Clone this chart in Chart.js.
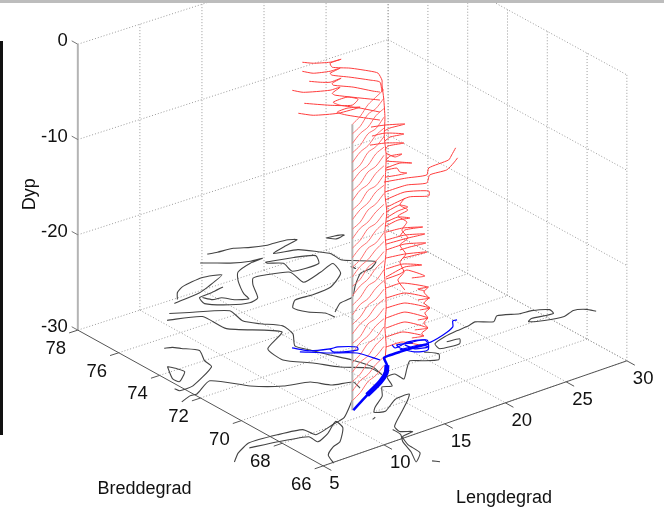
<!DOCTYPE html>
<html>
<head>
<meta charset="utf-8">
<script src="https://cdn.jsdelivr.net/npm/chart.js@4"></script>
<style>
  body { margin: 0; background: #fff; }
  #wrap { position: relative; width: 664px; height: 508px; overflow: hidden; }
  #topbar { position: absolute; left: 0; top: 0; width: 664px; height: 3px; background: #bdbdbd; }
  #leftbar { position: absolute; left: 0; top: 41px; width: 3px; height: 394px; background: #111; }
</style>
</head>
<body>
<div id="wrap">
  <canvas id="myChart" width="664" height="508"></canvas>
  <div id="topbar"></div>
  <div id="leftbar"></div>
</div>
<script>
const lonTicks = [5, 10, 15, 20, 25, 30];
const latTicks = [66, 68, 70, 72, 74, 76, 78];
const depthTicks = [0, -10, -20, -30];

// coast and depth contours, degrees
const coastLon = [
  [18.60,19.29,20.47,21.42,22.36,22.90,24.03,24.49,23.37,22.03,23.62,24.44,24.92,24.87,25.39,26.46,25.57,24.60,23.24,21.99,20.82,19.74],
  [17.42,18.07,18.94,20.13,21.02,19.95,18.51,17.77,17.18,16.79,16.58,15.78,15.30,14.66,14.34],
  [12.89,13.53,14.34,16.13,17.42,15.61,14.65,12.37],
  [16.37,15.25,14.19,13.89,15.07,16.26,17.12,18.07,18.71,19.60,21.15,20.89,22.67,24.11,23.59,21.79,20.14,18.82,17.98,18.37,19.14,19.28],
  [20.80,22.68,23.97,23.39,21.34,21.62,20.81,20.80],
  [26.14,26.74,27.33,26.56,26.14],
  [11.19,12.30,14.52,14.24,14.84,15.81,15.59,14.58,14.97,15.52,16.18,16.60,16.32],
  [10.44,12.59,12.70,15.21,12.94,12.68,13.93,14.93,16.36,16.41],
  [3.69,4.66,5.19,7.05,8.62,10.29,12.03,12.87,14.21,14.00],
  [7.72,8.22,8.58,9.31,8.64,8.44,5.73,4.61,4.54],
  [6.21,6.48,6.62,5.44,5.36,6.21],
  [0.85,1.88,3.36,5.57,7.29,7.49,9.28,10.52,12.50],
  [2.90,4.92,6.95,6.94,8.19,9.70,9.50,8.06,7.25,6.26,5.78],
  [33.02,32.70,31.95,30.93,29.55,28.65,29.08,30.66,30.82,29.82,28.93,27.59,26.88,25.91,25.24,24.17,23.01,21.87,21.66,23.13,23.59,22.65],
  [20.57,21.15,20.59,19.64,19.03,18.14,17.06,17.07,16.39,15.82,15.22,14.39,13.01,12.50,13.16,14.77,15.94,15.20,13.64,12.23,12.02,12.68,11.71,11.24,11.10,10.07,10.74,11.25,11.80,11.86],
  [10.97,11.29],
  [11.76,12.09],
  [24.73,24.81,24.80,24.73]
];
const coastLat = [
  [79.95,79.88,79.81,79.55,79.38,79.36,79.30,79.14,79.00,78.78,78.55,78.06,77.71,77.18,76.91,76.42,76.12,76.03,75.45,74.83,74.72,74.31],
  [79.58,79.34,79.02,78.76,78.70,78.65,78.37,77.92,77.42,77.02,76.65,76.86,77.21,77.27,77.57],
  [77.92,78.31,78.55,78.71,78.50,78.08,77.90,77.75],
  [77.80,77.68,77.62,77.19,76.66,76.41,76.54,77.36,77.75,77.70,77.40,76.58,76.84,77.11,76.40,75.80,75.70,75.73,75.32,74.81,74.44,74.03],
  [78.43,78.18,77.88,77.37,77.41,78.03,78.33,78.43],
  [78.70,78.66,78.54,78.46,78.70],
  [77.28,76.97,76.33,75.53,75.04,74.50,73.86,73.15,72.64,71.99,71.30,70.51,69.90],
  [76.93,76.50,75.38,74.18,73.49,72.59,71.86,71.13,70.51,70.04],
  [72.13,72.31,72.29,72.78,71.75,71.13,70.85,70.27,70.05,69.58],
  [75.42,75.32,75.10,74.65,74.00,73.53,72.81,72.78,72.99],
  [74.35,74.07,73.75,73.29,73.59,74.35],
  [67.87,68.29,68.64,68.55,68.36,67.84,68.08,68.26,69.06],
  [68.36,68.16,67.86,67.41,67.68,68.20,67.72,67.00,66.85,66.50,65.95],
  [69.40,69.70,69.89,69.72,69.87,70.11,70.23,70.10,70.39,70.68,70.73,71.05,70.77,71.12,71.02,70.96,70.85,70.64,70.27,70.18,70.46,70.53],
  [70.40,70.01,69.67,69.94,70.16,69.77,69.26,69.71,69.69,69.09,69.23,68.72,68.24,67.98,67.82,68.30,68.32,67.97,67.37,66.81,66.44,66.19,66.10,65.56,64.88,64.46,65.11,65.82,66.25,66.68],
  [64.21,64.01],
  [67.61,67.68],
  [76.60,76.53,76.40,76.60]
];

// ship track on the sea floor plane, first rows are the main leg
const trackLon = [
  [11.63,13.72,15.58,16.71,17.49,17.99,18.37,19.35,20.38,21.51],
  [13.72,15.58,16.71,17.49],
  [19.59,19.47,20.68,21.72,21.60,23.10,24.34,24.89,25.19],
  [14.25,14.88,16.08,16.67,17.63,17.40,16.46,15.96,16.08],
  [14.28,15.71,17.08,17.60],
  [20.59,21.82,20.95,20.11,19.72,19.84,20.83],
  [19.53,21.00,21.23,20.39,20.24]
];
const trackLat = [
  [68.48,69.06,69.54,69.93,70.36,70.81,70.85,70.85,70.83,70.77],
  [69.06,69.54,69.93,70.36],
  [71.39,71.16,71.26,71.05,70.82,70.99,71.26,71.60,71.57],
  [73.09,72.59,72.33,72.29,71.93,71.75,71.92,72.10,72.33],
  [72.72,72.10,71.59,70.77],
  [71.20,71.01,70.43,70.57,71.07,71.30,71.11],
  [70.96,70.86,70.60,70.74,71.15]
];

// first station, where the grey mast stands
const mastLon = 11.58;
const mastLat = 68.50;

// curtain stations between the mast and the bend
const curtainLon = [11.58, 12.81, 14.04, 15.18, 16.42];
const curtainLat = [68.50, 68.85, 69.21, 69.51, 69.86];
const curtainDepth = [
  [0,-0.1,0.15,0.1,-0.05],
  [-1,-1.15,-0.85,-1.1,-0.95],
  [-2,-1.9,-2.2,-1.85,-2.05],
  [-3,-3.15,-2.9,-3.2,-2.95],
  [-4,-3.85,-4.15,-3.9,-4.1],
  [-5,-5.2,-4.85,-5.1,-5],
  [-6,-5.9,-6.2,-5.85,-6.1],
  [-7,-7.15,-6.9,-7.15,-6.95],
  [-8,-7.85,-8.2,-7.9,-8.05],
  [-9,-9.15,-8.85,-9.2,-9],
  [-10,-9.9,-10.15,-9.85,-10.1],
  [-11,-11.2,-10.9,-11.1,-10.95],
  [-12,-11.85,-12.15,-11.95,-12.1],
  [-13,-13.1,-12.85,-13.15,-13],
  [-14,-13.9,-14.2,-13.9,-14.05],
  [-15,-15.15,-14.9,-15.2,-15.05],
  [-16,-15.85,-16.1,-15.9,-16],
  [-17,-17.2,-16.9,-17.1,-17.05],
  [-18,-17.9,-18.15,-17.85,-18],
  [-19,-19.1,-18.85,-19.15,-18.95],
  [-20,-19.85,-20.2,-19.95,-20.1],
  [-21,-21.15,-20.9,-21.1,-21],
  [-22,-21.9,-22.15,-21.85,-22.05],
  [-23,-23.2,-22.85,-23.1,-23],
  [-24,-23.85,-24.1,-23.9,-24.1],
  [-25,-25.1,-24.9,-25.15,-24.95],
  [-26,-25.9,-26.2,-25.9,-26.05],
  [-27,-27.15,-26.9,-27.1,-27],
  [-28,-27.85,-28.15,-27.95,-28.1],
  [-29,-29.1,-28.9,-29.1,-29]
];

// all the profile rows past the bend hang on this latitude
const fanLat = 69.86;
const fanLon = [
  [9.75,10.64,12.02,12.92,12.02,12.19,13.65,15.28,15.93,16.26,16.26],
  [9.75,10.64,12.02,12.84,12.02,12.19,13.65,15.28,16.09,16.26],
  [10.31,11.21,12.02,12.92,12.19,12.27,13.90,15.52,16.09],
  [8.93,9.83,12.02,12.84,12.19,12.43,16.09],
  [9.91,12.02,13.82,14.30,13.41,12.27,12.84,14.47,16.09],
  [9.42,10.64,12.68,14.47,13.41,12.59,13.41,16.09],
  [15.36,16.50,18.13,16.91,16.42],
  [15.44,16.50,18.05,16.91,16.50],
  [15.28,16.50,18.05,16.75,16.50],
  [16.58,17.32,17.89,16.91,16.58],
  [16.58,17.72,18.70,17.72,16.58],
  [16.58,17.48,17.72,18.29,17.56,16.58],
  [16.42,18.29,19.92,20.08,21.71,21.96,22.28],
  [16.50,18.29,19.92,20.16,21.55,22.12,22.44],
  [16.50,18.13,20.08,20.08,18.46,16.66],
  [16.58,17.32,17.72,18.37,17.56,16.58],
  [16.58,17.56,18.54,17.56,16.58],
  [16.58,17.97,19.59,18.13,17.72],
  [16.58,18.13,19.76,18.37,16.58],
  [16.58,18.13,19.84,18.54,17.72],
  [16.58,18.13,19.92,18.70,17.97],
  [16.58,17.97,19.51,18.13,16.58],
  [16.58,17.72,18.29,19.76,18.70],
  [16.58,17.89,20.00,19.19,19.76],
  [16.58,18.13,20.16,19.19],
  [16.58,18.13,20.16,19.35],
  [16.58,18.13,20.00,19.19],
  [16.58,18.13,20.00,18.94],
  [16.58,17.97,19.68,18.70],
  [16.58,17.89,19.35],
  [20.08,19.68,20.08,19.68,20.16,19.76,20.00,19.68,20.00,19.51,19.68],
  [18.13,17.72,18.37,17.56,18.29,17.89,18.37,17.72,18.21,17.72,18.05,17.56,18.13]
];
const fanDepth = [
  [5.71,5.22,4.73,4.65,4.62,4.13,3.40,2.38,1.89,1.01,0.49],
  [4.76,4.17,3.78,3.75,3.57,3.29,2.45,1.44,0.88,-0.24],
  [3.47,2.98,2.63,2.66,2.45,2.21,1.30,0.18,-0.17],
  [3.12,2.52,1.79,1.75,1.40,1.09,-1.01],
  [1.33,0.21,-0.56,-0.14,0.46,0.42,-0.14,-1.15,-2.27],
  [0.50,-0.24,-0.91,-1.05,-0.70,-0.77,-1.43,-3.11],
  [-3.53,-3.81,-4.41,-4.30,-4.41],
  [-4.51,-4.65,-5.42,-5.25,-5.49],
  [-5.39,-5.70,-6.37,-6.12,-6.44],
  [-6.79,-7.52,-7.45,-7.24,-7.52],
  [-7.63,-8.22,-8.75,-8.33,-8.36],
  [-8.57,-8.75,-9.27,-9.62,-9.52,-9.30],
  [-9.76,-10.14,-10.53,-9.87,-9.73,-9.31,-8.71],
  [-10.84,-10.88,-11.37,-10.64,-10.71,-10.22,-9.83],
  [-11.68,-11.54,-12.28,-12.80,-12.21,-12.49],
  [-12.98,-12.77,-12.73,-13.22,-13.29,-13.61],
  [-14.03,-13.92,-14.45,-14.24,-14.45],
  [-15.08,-15.25,-15.85,-15.53,-15.99],
  [-15.92,-16.06,-16.65,-16.48,-16.34],
  [-16.96,-17.00,-17.63,-17.49,-17.45],
  [-17.80,-18.05,-18.61,-18.50,-18.40],
  [-18.96,-19.03,-19.80,-19.41,-19.80],
  [-20.01,-19.97,-19.80,-21.06,-20.81],
  [-20.95,-20.99,-22.32,-22.18,-22.63],
  [-22.00,-22.14,-23.54,-23.33],
  [-23.05,-23.19,-24.59,-24.45],
  [-24.10,-24.14,-25.57,-25.43],
  [-25.15,-25.18,-26.62,-26.37],
  [-26.09,-26.16,-27.32,-27.11],
  [-27.14,-27.18,-28.12],
  [-22.35,-22.70,-23.51,-23.86,-24.59,-24.94,-25.57,-25.96,-26.62,-26.94,-27.32],
  [-12.17,-12.73,-13.54,-13.82,-14.76,-15.43,-16.48,-16.93,-18.09,-18.71,-19.90,-20.53,-21.83]
];

// the strand running down through the bends
const strandLon = [16.26,16.4,16.5,16.45,16.6,16.55,16.5,16.65,16.5,16.6,16.45,16.55,16.6,16.5,16.6,16.5];
const strandDepth = [0.5,-1,-3,-5,-7,-9,-11,-13,-15,-17,-19,-21,-23,-25,-27,-28.5];

// oblique view of the box: lon/lat/depth to the flat plane of the chart
function project(lon, lat, depth) {
  const l = lon - 17.5, t = 72 - lat;
  return {
    x: 354 + l * 12.28 + t * 20.17 - 0.022 * l * t,
    y: 346.75 - l * 4.1 + t * 11.1 - 0.017 * l * t - (depth + 30) * 9.53
  };
}

const datasets = [];
function addLine(points, color, width, dash, tension) {
  datasets.push({
    data: points,
    showLine: true,
    borderColor: color,
    borderWidth: width,
    borderDash: dash || [],
    tension: tension || 0,
    pointRadius: 0,
    fill: false
  });
}

const gridColor = '#9a9a9a';
const dots = [1, 2];
// left and right wall
depthTicks.forEach(d => {
  addLine([project(5, 78, d), project(30, 78, d)], gridColor, 1, dots);
  addLine([project(30, 78, d), project(30, 66, d)], gridColor, 1, dots);
});
lonTicks.forEach(lon => {
  if (lon > 5) addLine([project(lon, 78, -30), project(lon, 78, 0)], gridColor, 1, dots);
  if (lon > 5) addLine([project(lon, 78, -30), project(lon, 66, -30)], gridColor, 1, dots);
});
latTicks.forEach(lat => {
  addLine([project(30, lat, -30), project(30, lat, 0)], gridColor, 1, dots);
  if (lat < 78) addLine([project(5, lat, -30), project(30, lat, -30)], gridColor, 1, dots);
});

// box edges and ticks
addLine([project(5, 78, -30), project(5, 78, 0)], '#b4b4b4', 2);
addLine([project(5, 78, -30), project(5, 66, -30), project(30, 66, -30)], '#555', 1);
latTicks.forEach(lat => addLine([project(5, lat, -30), project(4.3, lat, -30)], '#555', 1));
lonTicks.forEach(lon => addLine([project(lon, 66, -30), project(lon, 65.6, -30)], '#555', 1));
depthTicks.forEach(d => addLine([project(5, 78, d), project(5, 78.3, d)], '#777', 1));

coastLon.forEach((row, i) => {
  addLine(row.map((lon, j) => project(lon, coastLat[i][j], -30)), '#444', 1.1, null, 0.2);
});

addLine([project(mastLon, mastLat, -30), project(mastLon, mastLat, 0)], '#b4b4b4', 2);

curtainDepth.forEach(row => {
  addLine(row.map((d, j) => project(curtainLon[j], curtainLat[j], d)), '#ff7070', 1, null, 0.3);
});
fanLon.forEach((row, i) => {
  addLine(row.map((lon, j) => project(lon, fanLat, fanDepth[i][j])), '#ff3c3c', 1, null, 0.2);
});
addLine(strandLon.map((lon, j) => project(lon, fanLat, strandDepth[j])), '#ff3c3c', 1, null, 0.2);

for (let i = trackLon.length - 1; i >= 0; i--) {
  const w = i == 0 ? 2.5 : i == 1 ? 5 : 1.2;
  addLine(trackLon[i].map((lon, j) => project(lon, trackLat[i][j], -30)), '#0000ff', w, null, 0.25);
}

// tick labels and axis names hang off the same scales
const axisText = {
  id: 'axisText',
  afterDraw(chart) {
    const { ctx, scales } = chart;
    const px = p => ({ x: scales.x.getPixelForValue(p.x), y: scales.y.getPixelForValue(p.y) });
    ctx.save();
    ctx.fillStyle = '#111';
    ctx.font = '18.5px "Liberation Sans"';
    ctx.textBaseline = 'middle';
    ctx.textAlign = 'right';
    depthTicks.forEach(d => {
      const p = px(project(5, 78, d));
      ctx.fillText(String(d), p.x - 10, p.y - 3);
    });
    ctx.textAlign = 'center';
    latTicks.forEach(lat => {
      const p = px(project(5, lat, -30));
      ctx.fillText(String(lat), p.x - 22, p.y + 19);
    });
    ctx.textAlign = 'left';
    lonTicks.forEach(lon => {
      const p = px(project(lon, 66, -30));
      ctx.fillText(String(lon), p.x + 6, p.y + 18);
    });
    ctx.textAlign = 'center';
    ctx.font = '18px "Liberation Sans"';
    const b = px(project(5, 72, -30));
    ctx.fillText('Breddegrad', b.x - 56, b.y + 91);
    const l = px(project(17.5, 66, -30));
    ctx.fillText('Lengdegrad', l.x + 29, l.y + 85);
    const d = px(project(5, 78, -15));
    ctx.translate(d.x - 48, d.y + 7);
    ctx.rotate(-Math.PI / 2);
    ctx.fillText('Dyp', 0, 0);
    ctx.restore();
  }
};

const myChart = new Chart(document.getElementById('myChart'), {
  type: 'scatter',
  data: { datasets: datasets.reverse() },
  options: {
    responsive: false,
    animation: false,
    layout: { padding: 0 },
    scales: {
      x: { type: 'linear', display: false, min: 0, max: 664 },
      y: { type: 'linear', display: false, min: 0, max: 508, reverse: true }
    },
    plugins: {
      legend: { display: false },
      tooltip: { enabled: false }
    }
  },
  plugins: [axisText]
});
</script>
</body>
</html>
